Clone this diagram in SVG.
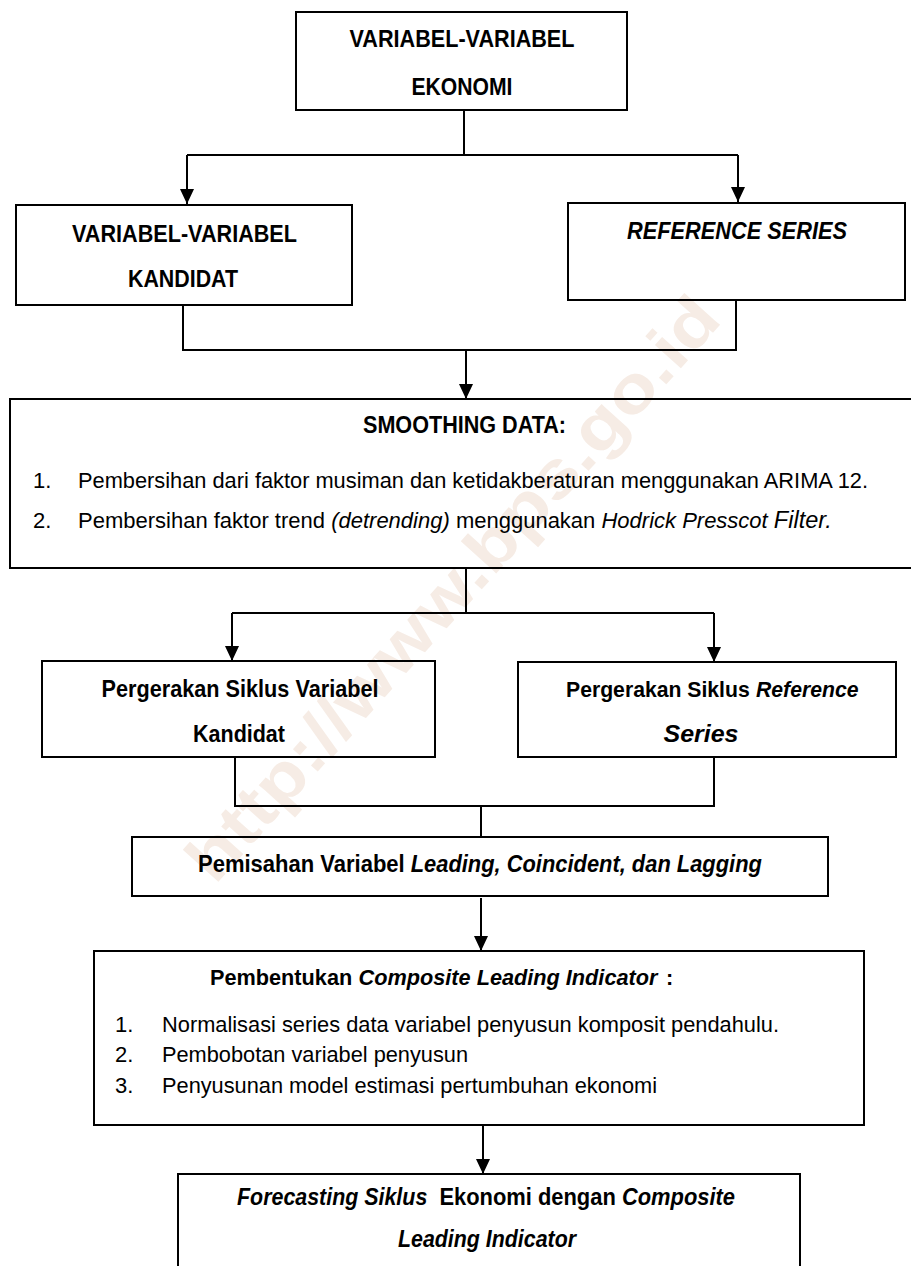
<svg xmlns="http://www.w3.org/2000/svg" width="911" height="1266" viewBox="0 0 911 1266">
<style>
.bx{fill:none;stroke:#000;stroke-width:2}
.cn{fill:none;stroke:#000;stroke-width:2}
.h{font-family:"Liberation Sans",Arial,sans-serif;font-weight:bold;font-size:24px;fill:#000}
.t{font-family:"Liberation Sans",Arial,sans-serif;font-size:22px;fill:#000}
.i{font-style:italic}
.s21{font-size:21.2px}
.s22{font-size:21.7px}
.wm{font-family:"Liberation Sans",Arial,sans-serif;font-weight:bold;font-size:66px;fill:#f6ece5}
</style>
<defs>
<marker id="ah" markerWidth="15" markerHeight="14" refX="15" refY="7" orient="auto" markerUnits="userSpaceOnUse" viewBox="0 0 15 14"><path d="M0,0 L15,7 L0,14 z" fill="#000"/></marker>
</defs>
<rect width="911" height="1266" fill="#fff"/>
<g id="watermark"><text class="wm" transform="translate(452,588) rotate(-48)" text-anchor="middle" dominant-baseline="central" textLength="760" lengthAdjust="spacingAndGlyphs">http://www.bps.go.id</text></g>
<g id="connectors">
<path class="cn" d="M464,110 V155 M187,155 H738"/>
<path class="cn" d="M187,155 V204" marker-end="url(#ah)"/>
<path class="cn" d="M738,155 V202" marker-end="url(#ah)"/>
<path class="cn" d="M183,305 V350 H736 V300"/>
<path class="cn" d="M466,350 V399" marker-end="url(#ah)"/>
<path class="cn" d="M466,568 V613 M232,613 H714"/>
<path class="cn" d="M232,613 V661" marker-end="url(#ah)"/>
<path class="cn" d="M714,613 V662" marker-end="url(#ah)"/>
<path class="cn" d="M235,757 V806 H714 V757 M481,806 V837"/>
<path class="cn" d="M481,898 V951" marker-end="url(#ah)"/>
<path class="cn" d="M483,1125 V1174" marker-end="url(#ah)"/>
</g>
<g id="n1">
<rect class="bx" x="296" y="12" width="331" height="98"/>
<text class="h" x="462" y="47" text-anchor="middle" textLength="225" lengthAdjust="spacingAndGlyphs">VARIABEL-VARIABEL</text>
<text class="h" x="462" y="95" text-anchor="middle" textLength="101" lengthAdjust="spacingAndGlyphs">EKONOMI</text>
</g>
<g id="n2">
<rect class="bx" x="16" y="205" width="336" height="100"/>
<text class="h" x="184.5" y="242" text-anchor="middle" textLength="225" lengthAdjust="spacingAndGlyphs">VARIABEL-VARIABEL</text>
<text class="h" x="183" y="287" text-anchor="middle" textLength="110" lengthAdjust="spacingAndGlyphs">KANDIDAT</text>
</g>
<g id="n3">
<rect class="bx" x="568" y="203" width="337" height="97"/>
<text class="h i" x="737" y="239" text-anchor="middle" textLength="220" lengthAdjust="spacingAndGlyphs">REFERENCE SERIES</text>
</g>
<g id="n4">
<rect class="bx" x="10" y="399" width="910" height="169"/>
<text class="h" x="464.5" y="433" text-anchor="middle" textLength="203" lengthAdjust="spacingAndGlyphs">SMOOTHING DATA:</text>
<text class="t" x="33" y="488">1.</text>
<text class="t" x="78" y="488" textLength="790" lengthAdjust="spacingAndGlyphs">Pembersihan dari faktor musiman dan ketidakberaturan menggunakan ARIMA 12.</text>
<text class="t" x="33" y="528">2.</text>
<text class="t" x="78" y="528">Pembersihan faktor trend <tspan class="i">(detrending)</tspan> menggunakan <tspan class="i">Hodrick Presscot </tspan><tspan class="i" style="font-size:23.5px">Filter.</tspan></text>
</g>
<g id="n5">
<rect class="bx" x="42" y="661" width="393" height="96"/>
<text class="h" x="240" y="697" text-anchor="middle" textLength="277" lengthAdjust="spacingAndGlyphs">Pergerakan Siklus Variabel</text>
<text class="h" x="239" y="742" text-anchor="middle" textLength="92" lengthAdjust="spacingAndGlyphs">Kandidat</text>
</g>
<g id="n6">
<rect class="bx" x="518" y="662" width="378" height="95"/>
<text class="h s21" x="566" y="697">Pergerakan Siklus</text>
<text class="h i s21" x="756" y="697">Reference</text>
<text class="h i" x="701" y="742" text-anchor="middle" textLength="75" lengthAdjust="spacingAndGlyphs">Series</text>
</g>
<g id="n7">
<rect class="bx" x="132" y="837" width="696" height="59"/>
<text class="h" x="198" y="872" textLength="206.7" lengthAdjust="spacingAndGlyphs">Pemisahan Variabel</text>
<text class="h i" x="410.7" y="872" textLength="351.2" lengthAdjust="spacingAndGlyphs">Leading, Coincident, dan Lagging</text>
</g>
<g id="n8">
<rect class="bx" x="94" y="951" width="770" height="174"/>
<text class="h s22" x="210" y="985">Pembentukan</text>
<text class="h i s22" x="358.6" y="985">Composite Leading Indicator</text>
<text class="h s22" x="666" y="985">:</text>
<text class="t" x="115" y="1032">1.</text>
<text class="t" x="162" y="1032" textLength="617" lengthAdjust="spacingAndGlyphs">Normalisasi series data variabel penyusun komposit pendahulu.</text>
<text class="t" x="115" y="1062">2.</text>
<text class="t" x="162" y="1062" textLength="306" lengthAdjust="spacingAndGlyphs">Pembobotan variabel penyusun</text>
<text class="t" x="115" y="1093">3.</text>
<text class="t" x="162" y="1093" textLength="495" lengthAdjust="spacingAndGlyphs">Penyusunan model estimasi pertumbuhan ekonomi</text>
</g>
<g id="n9">
<rect class="bx" x="178" y="1174" width="622" height="120"/>
<text class="h i" x="237" y="1205" textLength="190.3" lengthAdjust="spacingAndGlyphs">Forecasting Siklus</text>
<text class="h" x="439.4" y="1205" textLength="176.4" lengthAdjust="spacingAndGlyphs">Ekonomi dengan</text>
<text class="h i" x="621.9" y="1205" textLength="113.1" lengthAdjust="spacingAndGlyphs">Composite</text>
<text class="h i" x="487" y="1247" text-anchor="middle" textLength="178" lengthAdjust="spacingAndGlyphs">Leading Indicator</text>
</g>
</svg>
